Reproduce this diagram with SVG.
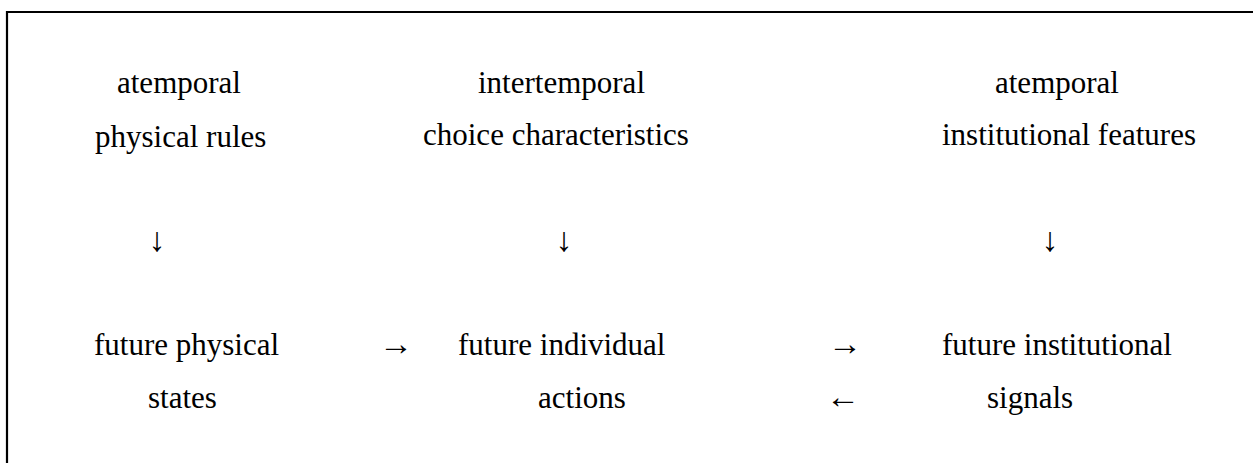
<svg xmlns="http://www.w3.org/2000/svg" width="1253" height="463" viewBox="0 0 1253 463">
<style>
text{font-family:"Liberation Serif","Times New Roman",serif;font-size:31px;fill:#000}
.c{text-anchor:middle;font-size:34px}
</style>
<rect x="0" y="0" width="1253" height="463" fill="#fff"/>
<path d="M7,470 V12 H1260" fill="none" stroke="#000" stroke-width="2.2"/>
<g id="physical-rules"><text x="117" y="93">atemporal</text><text x="95" y="147">physical rules</text></g>
<g id="choice-characteristics"><text x="478" y="93">intertemporal</text><text x="423" y="145">choice characteristics</text></g>
<g id="institutional-features"><text x="995" y="93">atemporal</text><text x="942" y="145">institutional features</text></g>
<g id="physical-states"><text x="94" y="355">future physical</text><text x="148" y="408">states</text></g>
<g id="individual-actions"><text x="458" y="355">future individual</text><text x="538" y="408">actions</text></g>
<g id="institutional-signals"><text x="942" y="355">future institutional</text><text x="987" y="408">signals</text></g>
<g id="connectors">
<text class="c" x="157" y="251">↓</text>
<text class="c" x="564" y="251">↓</text>
<text class="c" x="1050" y="251">↓</text>
<text class="c" x="396" y="355">→</text>
<text class="c" x="845" y="355">→</text>
<text class="c" x="843" y="408">←</text>
</g>
</svg>
